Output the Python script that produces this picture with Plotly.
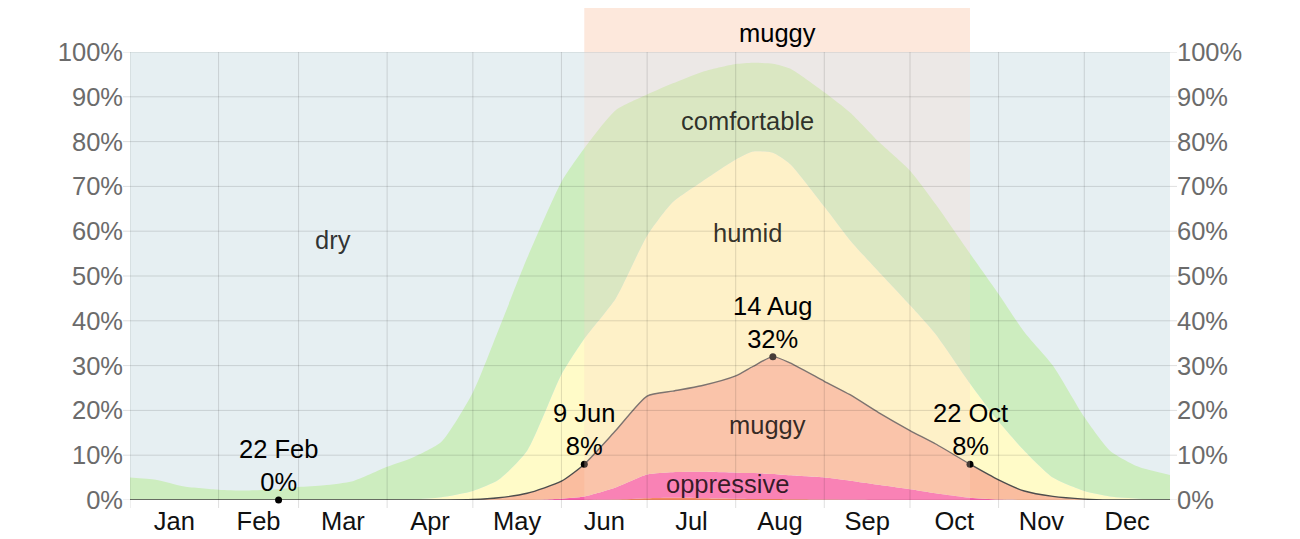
import plotly.graph_objects as go

# ---------------- data ----------------
dates = ["2023-01-01", "2023-01-10", "2023-01-20", "2023-02-01", "2023-02-10", "2023-02-22",
         "2023-03-01", "2023-03-10", "2023-03-20", "2023-04-01", "2023-04-10", "2023-04-20",
         "2023-05-01", "2023-05-10", "2023-05-20", "2023-06-01", "2023-06-09", "2023-06-20",
         "2023-07-01", "2023-07-10", "2023-07-20", "2023-08-01", "2023-08-07", "2023-08-14",
         "2023-08-20", "2023-09-01", "2023-09-10", "2023-09-20", "2023-10-01", "2023-10-10",
         "2023-10-22", "2023-11-01", "2023-11-10", "2023-11-20", "2023-12-01", "2023-12-10",
         "2023-12-20", "2023-12-31"]

# cumulative percentages: share of days at that level or worse
miserable = [0, 0, 0, 0, 0, 0, 0, 0, 0, 0, 0, 0, 0, 0, 0, 0, 0,
             0.1, 0.4, 0.5, 0.4, 0.3, 0.25, 0.2, 0.15, 0.1, 0.05, 0,
             0, 0, 0, 0, 0, 0, 0, 0, 0, 0]
oppressive_or_worse = [0, 0, 0, 0, 0, 0, 0, 0, 0, 0, 0, 0, 0, 0, 0,
                       0.3, 0.8, 2.8, 5.7, 6.2, 6.3, 6.1, 6.0, 5.8, 5.5, 5.0, 4.3, 3.4,
                       2.4, 1.5, 0.5, 0.1, 0, 0, 0, 0, 0, 0]
muggy_or_worse = [0, 0, 0, 0, 0, 0, 0, 0, 0, 0, 0, 0,
                  0.1, 0.5, 1.5, 4.2, 8.0, 15.5, 23.2, 24.3, 25.5, 27.7, 29.8, 32.0,
                  30.6, 26.5, 23.5, 19.5, 15.5, 12.5, 8.0, 4.5, 2.0, 0.8, 0.2, 0, 0, 0]
humid_or_worse = [0, 0, 0, 0, 0, 0, 0, 0, 0, 0,
                  0.1, 0.6, 2.0, 4.5, 11.0, 28.0, 36.0, 45.0, 59.0, 66.5, 71.0, 76.0,
                  77.8, 77.5, 75.0, 65.5, 58.0, 51.0, 43.5, 37.0, 26.0, 17.5, 11.0, 5.0,
                  2.0, 0.8, 0.3, 0]
comfortable_or_worse = [5.0, 4.5, 3.0, 2.3, 2.1, 2.4, 2.9, 3.3, 4.2, 7.4, 9.5, 13.0,
                        24.0, 38.0, 54.0, 71.0, 78.5, 87.0, 90.5, 93.0, 95.5, 97.3, 97.6,
                        97.4, 96.3, 91.0, 86.5, 80.0, 73.5, 66.0, 55.0, 46.0, 37.5, 30.0,
                        18.5, 11.0, 7.4, 5.6]

month_starts = ["2023-01-01", "2023-02-01", "2023-03-01", "2023-04-01", "2023-05-01",
                "2023-06-01", "2023-07-01", "2023-08-01", "2023-09-01", "2023-10-01",
                "2023-11-01", "2023-12-01"]
y_ticks = [0, 10, 20, 30, 40, 50, 60, 70, 80, 90, 100]
y_tick_text = [f"{t}%" for t in y_ticks]

highlight_dates = ["2023-02-22", "2023-06-09", "2023-08-14", "2023-10-22"]
highlight_labels = ["22 Feb", "9 Jun", "14 Aug", "22 Oct"]
muggy_season_start = "2023-06-09"
muggy_season_end = "2023-10-22"
muggy_season_mid = "2023-08-15 12:00"

band_names = ["dry", "comfortable", "humid", "muggy", "oppressive"]

# ---------------- styles ----------------
FONT = "Helvetica, Arial, 'Liberation Sans', sans-serif"
FS = 25.5
C_DRY = "#e6eff2"
C_COMF = "#cdedbf"
C_HUMID = "#fffbc8"
C_MUGGY = "#fabd9f"
C_OPP = "#f862ad"
C_MIS = "#f2683a"
GRID = "rgba(0,0,0,0.13)"

# page body has an 8px offset; compensate in margins
ML, MT, MR, MB = 122, 44, 138, 47
PLOT_H = 539 - MT - MB
PLOT_W = 1300 - ML - MR
TICK_X = 8 / PLOT_H
TICK_Y = 7 / PLOT_W

fig = go.Figure()

layers = [
    (miserable, C_MIS, "tozeroy"),
    (oppressive_or_worse, C_OPP, "tonexty"),
    (muggy_or_worse, C_MUGGY, "tonexty"),
    (humid_or_worse, C_HUMID, "tonexty"),
    (comfortable_or_worse, C_COMF, "tonexty"),
]
for vals, col, fill in layers:
    fig.add_trace(go.Scatter(x=dates, y=vals, mode="lines", fill=fill, fillcolor=col,
                             line=dict(width=0, shape="spline", smoothing=0.6),
                             hoverinfo="skip", showlegend=False))

# muggy-or-worse boundary line
fig.add_trace(go.Scatter(x=dates, y=muggy_or_worse, mode="lines",
                         line=dict(color="#4d4d4d", width=1.4, shape="spline", smoothing=0.6),
                         hoverinfo="skip", showlegend=False))

# highlighted points
hl_vals = [muggy_or_worse[dates.index(d)] for d in highlight_dates]
fig.add_trace(go.Scatter(x=highlight_dates, y=hl_vals, mode="markers", cliponaxis=False,
                         marker=dict(color="black", size=7),
                         hoverinfo="skip", showlegend=False))

# invisible trace to make the right axis
fig.add_trace(go.Scatter(x=[dates[0]], y=[0], yaxis="y2", mode="markers",
                         marker=dict(opacity=0), hoverinfo="skip", showlegend=False))

band_top = 1 + 44 / PLOT_H
shapes = []
shapes.append(dict(type="rect", xref="x", yref="paper", x0=muggy_season_start, x1=muggy_season_end,
                   y0=1.0, y1=band_top, fillcolor="#fde8dc", line=dict(width=0), layer="below"))
shapes.append(dict(type="rect", xref="x", yref="paper", x0=muggy_season_start, x1=muggy_season_end,
                   y0=0, y1=1, fillcolor="rgba(253,215,200,0.28)", line=dict(width=0), layer="above"))
# month gridlines, extending below the plot as tick marks
for m in month_starts:
    shapes.append(dict(type="line", xref="x", yref="paper", x0=m, x1=m, y0=-TICK_X, y1=1,
                       line=dict(color=GRID, width=1), layer="above"))
# horizontal gridlines, extending outside on both sides as tick marks
for t in y_ticks:
    shapes.append(dict(type="line", xref="paper", yref="y", x0=-TICK_Y, x1=1 + TICK_Y, y0=t, y1=t,
                       line=dict(color=GRID, width=1), layer="above"))

annotations = []
for d, lab, v in zip(highlight_dates, highlight_labels, hl_vals):
    annotations.append(dict(x=d, y=v, xref="x", yref="y", text=f"{lab}<br>{v:.0f}%",
                            showarrow=False, yanchor="bottom", yshift=2,
                            font=dict(family=FONT, size=FS, color="black")))

band_label_pos = {
    "dry": ("2023-03-13", 58),
    "comfortable": ("2023-08-05", 84.6),
    "humid": ("2023-08-05", 59.6),
    "muggy": ("2023-08-12", 16.7),
    "oppressive": ("2023-07-29", 3.6),
}
for name in band_names:
    x, y = band_label_pos[name]
    annotations.append(dict(x=x, y=y, xref="x", yref="y", text=name, showarrow=False,
                            font=dict(family=FONT, size=FS, color="rgba(0,0,0,0.8)")))
annotations.append(dict(x=muggy_season_mid, y=1 + 19 / PLOT_H, xref="x", yref="paper",
                        text="muggy", showarrow=False, yanchor="middle",
                        font=dict(family=FONT, size=FS, color="black")))

yaxis_common = dict(range=[0, 100], tickmode="array", tickvals=y_ticks, ticktext=y_tick_text,
                    ticks="", ticklabelstandoff=6, showgrid=False, zeroline=False,
                    showline=False, automargin=False,
                    tickfont=dict(family=FONT, size=FS, color="#6b6b6b"), fixedrange=True)

fig.update_layout(
    width=1300, height=539,
    margin=dict(l=ML, r=MR, t=MT, b=MB),
    paper_bgcolor="white", plot_bgcolor=C_DRY,
    showlegend=False,
    font=dict(family=FONT),
    xaxis=dict(type="date", range=["2023-01-01", "2023-12-31"], dtick="M1", tick0="2023-01-01",
               tickformat="%b", ticklabelmode="period", ticks="", ticklabelstandoff=3,
               showgrid=False, zeroline=False, showline=False, automargin=False,
               tickfont=dict(family=FONT, size=FS, color="#111111"), fixedrange=True),
    yaxis=dict(side="left", **yaxis_common),
    yaxis2=dict(side="right", overlaying="y", **yaxis_common),
    shapes=shapes,
    annotations=annotations,
)

fig.write_html("out.html")
